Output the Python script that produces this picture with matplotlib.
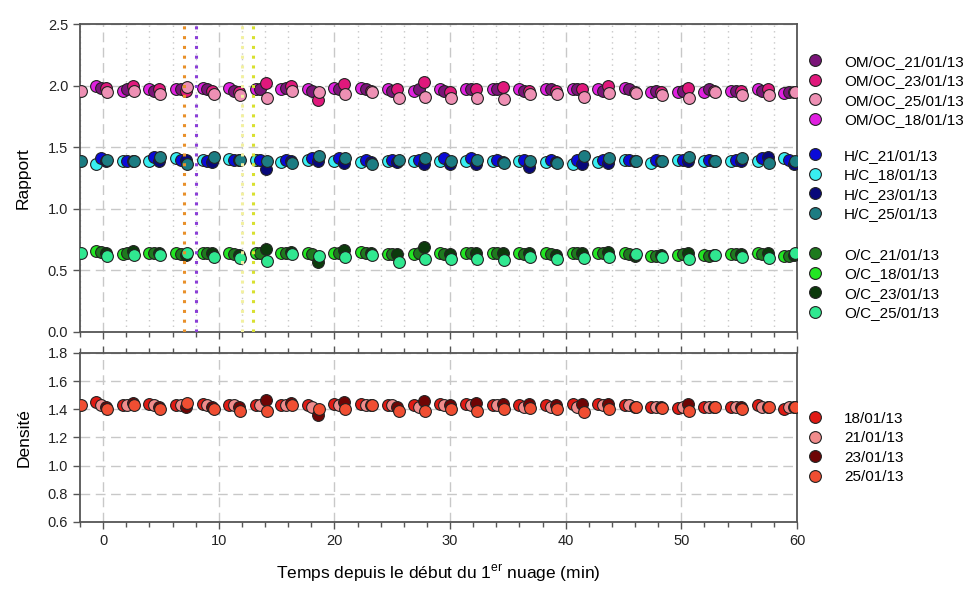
import matplotlib
matplotlib.use("Agg")
import matplotlib.pyplot as plt
from matplotlib.lines import Line2D
from matplotlib.ticker import MultipleLocator

plt.rcParams['font.family'] = ['Liberation Sans', 'DejaVu Sans']
plt.rcParams['mathtext.fontset'] = 'custom'
plt.rcParams['mathtext.rm'] = 'Liberation Sans'

# ---------------- data ----------------
t_18 = [-0.6, 1.7, 4.0, 6.3, 8.6, 10.9, 13.2, 15.4, 17.7, 20.0, 22.3, 24.6, 26.9, 29.1,
        31.4, 33.7, 36.0, 38.3, 40.6, 42.8, 45.1, 47.4, 49.7, 52.0, 54.3, 56.6, 58.9]
t_21 = [-0.2, 2.1, 4.4, 6.7, 9.0, 11.3, 13.6, 15.8, 18.1, 20.4, 22.7, 25.0, 27.3, 29.5,
        31.8, 34.1, 36.4, 38.7, 41.0, 43.2, 45.5, 47.8, 50.1, 52.4, 54.7, 57.0, 59.3]
t_23 = [0.25, 2.55, 4.85, 7.15, 9.45, 11.75, 14.05, 16.25, 18.55, 20.85, 23.15, 25.45, 27.75, 29.95,
        32.25, 34.55, 36.85, 39.15, 41.45, 43.65, 45.95, 48.25, 50.55, 52.85, 55.15, 57.45, 59.75]
t_25 = [-1.9, 0.35, 2.65, 4.95, 7.25, 9.55, 11.85, 14.15, 16.35, 18.65, 20.95, 23.25, 25.55, 27.85, 30.05,
        32.35, 34.65, 36.95, 39.25, 41.55, 43.75, 46.05, 48.35, 50.65, 52.95, 55.25, 57.55, 59.85]

omoc_18 = [2.00, 1.96, 1.97, 1.97, 1.98, 1.98, 1.97, 1.97, 1.97, 1.98, 1.98, 1.97, 1.96, 1.97,
           1.97, 1.97, 1.97, 1.97, 1.97, 1.97, 1.98, 1.95, 1.95, 1.95, 1.96, 1.97, 1.94]
omoc_21 = [1.98, 1.97, 1.96, 1.97, 1.97, 1.96, 1.97, 1.98, 1.96, 1.97, 1.97, 1.96, 1.97, 1.96,
           1.97, 1.97, 1.96, 1.97, 1.97, 1.96, 1.97, 1.96, 1.96, 1.97, 1.96, 1.96, 1.95]
omoc_23 = [1.98, 2.00, 1.97, 1.96, 1.96, 1.95, 2.02, 2.00, 1.88, 2.01, 1.96, 1.97, 2.03, 1.95,
           1.97, 1.99, 1.96, 1.96, 1.97, 2.00, 1.95, 1.95, 1.98, 1.96, 1.96, 1.97, 1.95]
omoc_25 = [1.96, 1.95, 1.96, 1.93, 1.99, 1.93, 1.92, 1.90, 1.96, 1.95, 1.93, 1.95, 1.90, 1.91, 1.90,
           1.90, 1.89, 1.93, 1.93, 1.91, 1.94, 1.94, 1.92, 1.90, 1.95, 1.92, 1.92, 1.95]

hc_18 = [1.366, 1.385, 1.385, 1.41, 1.40, 1.404, 1.40, 1.377, 1.40, 1.39, 1.38, 1.39, 1.385, 1.385,
         1.385, 1.385, 1.39, 1.377, 1.366, 1.377, 1.40, 1.37, 1.40, 1.385, 1.39, 1.39, 1.41]
hc_21 = [1.41, 1.39, 1.42, 1.40, 1.39, 1.40, 1.40, 1.40, 1.41, 1.41, 1.40, 1.40, 1.40, 1.41,
         1.41, 1.40, 1.40, 1.40, 1.40, 1.40, 1.40, 1.40, 1.40, 1.40, 1.40, 1.41, 1.40]
hc_23 = [1.385, 1.385, 1.385, 1.40, 1.377, 1.40, 1.32, 1.39, 1.39, 1.37, 1.38, 1.38, 1.36, 1.366,
         1.36, 1.38, 1.34, 1.38, 1.36, 1.37, 1.39, 1.39, 1.385, 1.39, 1.39, 1.42, 1.36]
hc_25 = [1.39, 1.40, 1.385, 1.42, 1.36, 1.42, 1.40, 1.39, 1.37, 1.43, 1.41, 1.36, 1.40, 1.41, 1.39,
         1.40, 1.37, 1.385, 1.37, 1.425, 1.41, 1.385, 1.385, 1.42, 1.39, 1.41, 1.37, 1.385]

oc_18 = [0.657, 0.633, 0.644, 0.638, 0.644, 0.644, 0.644, 0.644, 0.644, 0.644, 0.652, 0.633, 0.633, 0.638,
         0.644, 0.644, 0.638, 0.638, 0.644, 0.644, 0.644, 0.617, 0.625, 0.625, 0.633, 0.638, 0.617]
oc_21 = [0.65, 0.64, 0.64, 0.63, 0.64, 0.63, 0.64, 0.64, 0.63, 0.64, 0.64, 0.63, 0.64, 0.63,
         0.64, 0.64, 0.63, 0.63, 0.64, 0.64, 0.63, 0.62, 0.63, 0.62, 0.63, 0.63, 0.62]
oc_23 = [0.638, 0.657, 0.638, 0.625, 0.638, 0.625, 0.67, 0.65, 0.565, 0.665, 0.638, 0.633, 0.687, 0.633,
         0.644, 0.644, 0.638, 0.625, 0.638, 0.65, 0.617, 0.625, 0.638, 0.625, 0.633, 0.638, 0.625]
oc_25 = [0.638, 0.617, 0.622, 0.622, 0.644, 0.606, 0.598, 0.58, 0.633, 0.617, 0.606, 0.625, 0.57, 0.59, 0.595,
         0.59, 0.584, 0.61, 0.59, 0.598, 0.606, 0.633, 0.606, 0.59, 0.625, 0.606, 0.598, 0.638]

dens_18 = [1.452, 1.433, 1.438, 1.428, 1.438, 1.433, 1.433, 1.428, 1.428, 1.438, 1.438, 1.433, 1.428, 1.438,
           1.438, 1.433, 1.433, 1.433, 1.438, 1.438, 1.433, 1.42, 1.41, 1.42, 1.42, 1.428, 1.405]
dens_21 = [1.428, 1.428, 1.428, 1.428, 1.428, 1.428, 1.428, 1.428, 1.42, 1.428, 1.428, 1.428, 1.414, 1.428,
           1.428, 1.428, 1.42, 1.42, 1.414, 1.428, 1.428, 1.42, 1.414, 1.42, 1.42, 1.42, 1.414]
dens_23 = [1.42, 1.445, 1.42, 1.414, 1.42, 1.414, 1.468, 1.445, 1.362, 1.452, 1.428, 1.42, 1.462, 1.433,
           1.445, 1.438, 1.438, 1.428, 1.438, 1.438, 1.42, 1.414, 1.438, 1.414, 1.42, 1.414, 1.42]
dens_25 = [1.428, 1.405, 1.428, 1.40, 1.445, 1.40, 1.39, 1.39, 1.428, 1.405, 1.40, 1.428, 1.39, 1.386, 1.40,
           1.39, 1.40, 1.41, 1.405, 1.38, 1.405, 1.414, 1.41, 1.39, 1.414, 1.40, 1.414, 1.42]

event_lines = [7.0, 8.0, 12.0, 13.0]
event_colors = ['#E8902A', '#8A3FD6', '#F2F0A0', '#D8E030']

# ---------------- figure ----------------
fig = plt.figure(figsize=(9.69, 5.90), dpi=100)
ax1 = fig.add_axes([0.0826, 0.4373, 0.7399, 0.5220])
ax2 = fig.add_axes([0.0826, 0.1153, 0.7399, 0.2864])

spine_col = '#555555'
ms = 72
ec = '#222222'
elw = 0.8

top_groups = [
    [('OM/OC_21/01/13', t_21, omoc_21, '#7A1478'),
     ('OM/OC_23/01/13', t_23, omoc_23, '#E0187C'),
     ('OM/OC_25/01/13', t_25, omoc_25, '#EE90B4'),
     ('OM/OC_18/01/13', t_18, omoc_18, '#E020E0')],
    [('H/C_21/01/13', t_21, hc_21, '#0A0AD8'),
     ('H/C_18/01/13', t_18, hc_18, '#38EEF2'),
     ('H/C_23/01/13', t_23, hc_23, '#08087A'),
     ('H/C_25/01/13', t_25, hc_25, '#1C7C82')],
    [('O/C_21/01/13', t_21, oc_21, '#1E7A1E'),
     ('O/C_18/01/13', t_18, oc_18, '#22E622'),
     ('O/C_23/01/13', t_23, oc_23, '#0C3A0C'),
     ('O/C_25/01/13', t_25, oc_25, '#30E890')],
]
order = {'18': 0, '21': 1, '23': 2, '25': 3}

for grp in top_groups:
    for lab, tt, vv, col in sorted(grp, key=lambda g: order[g[0].split('_')[1][:2]]):
        ax1.scatter(tt, vv, s=ms, c=col, edgecolors=ec, linewidths=elw, zorder=3)

dens_series = [('18/01/13', t_18, dens_18, '#E01A14'),
               ('21/01/13', t_21, dens_21, '#F08C8C'),
               ('23/01/13', t_23, dens_23, '#6E0404'),
               ('25/01/13', t_25, dens_25, '#F04E32')]
for lab, tt, vv, col in dens_series:
    ax2.scatter(tt, vv, s=ms, c=col, edgecolors=ec, linewidths=elw, zorder=3)

for x, c in zip(event_lines, event_colors):
    ax1.axvline(x, color=c, linestyle=(0, (1, 2.2)), linewidth=2.2, zorder=4)

for ax in (ax1, ax2):
    ax.set_xlim(-2, 60)
    for s in ax.spines.values():
        s.set_color(spine_col)
        s.set_linewidth(1.3)
    ax.xaxis.set_major_locator(MultipleLocator(10))
    ax.xaxis.set_minor_locator(MultipleLocator(2))
    ax.tick_params(axis='both', which='major', direction='out', length=5, width=1, color=spine_col,
                   labelsize=10.5, labelcolor='#222222')
    ax.tick_params(axis='x', which='minor', direction='out', length=3.5, width=1, color=spine_col)
    ax.grid(True, which='major', axis='both', color='#C8C8C8', linestyle=(0, (7, 4)), linewidth=1.0, zorder=0)
    ax.set_axisbelow(True)

ax1.set_ylim(0, 2.5)
ax1.yaxis.set_major_locator(MultipleLocator(0.5))
ax1.yaxis.set_major_formatter(matplotlib.ticker.FormatStrFormatter('%.1f'))
ax1.grid(True, which='minor', axis='x', color='#C8C8C8', linestyle=(0, (1, 3)), linewidth=1.0, zorder=0)
ax1.tick_params(axis='x', which='both', labelbottom=False)
ax1.set_ylabel('Rapport', fontsize=12.5, labelpad=12)

ax2.set_ylim(0.6, 1.8)
ax2.yaxis.set_major_locator(MultipleLocator(0.2))
ax2.yaxis.set_major_formatter(matplotlib.ticker.FormatStrFormatter('%.1f'))
ax2.tick_params(axis='x', which='both', top=True)
ax2.set_xticks([0, 10, 20, 30, 40, 50, 60])
ax2.set_ylabel('Densité', fontsize=12.5, labelpad=12)
ax2.set_xlabel(r'Temps depuis le début du 1$^{\mathrm{er}}$ nuage (min)', fontsize=12.5, labelpad=11)


def make_handles(items):
    return [Line2D([0], [0], marker='o', linestyle='none', markersize=8.5, markerfacecolor=it[-1],
                   markeredgecolor=ec, markeredgewidth=elw) for it in items], [it[0] for it in items]


legend_tops = [47, 141, 240]
lx = 798 / 969
for grp, ytop in zip(top_groups, legend_tops):
    h, l = make_handles(grp)
    fig.legend(h, l, loc='upper left', bbox_to_anchor=(lx, 1 - ytop / 590), frameon=False,
               fontsize=11, labelspacing=0.36, handletextpad=1.3, borderpad=0, handlelength=1.2)
h, l = make_handles(dens_series)
fig.legend(h, l, loc='upper left', bbox_to_anchor=(lx, 1 - 404 / 590), frameon=False,
           fontsize=11, labelspacing=0.36, handletextpad=1.3, borderpad=0, handlelength=1.2)

fig.savefig('out.png', dpi=100)
